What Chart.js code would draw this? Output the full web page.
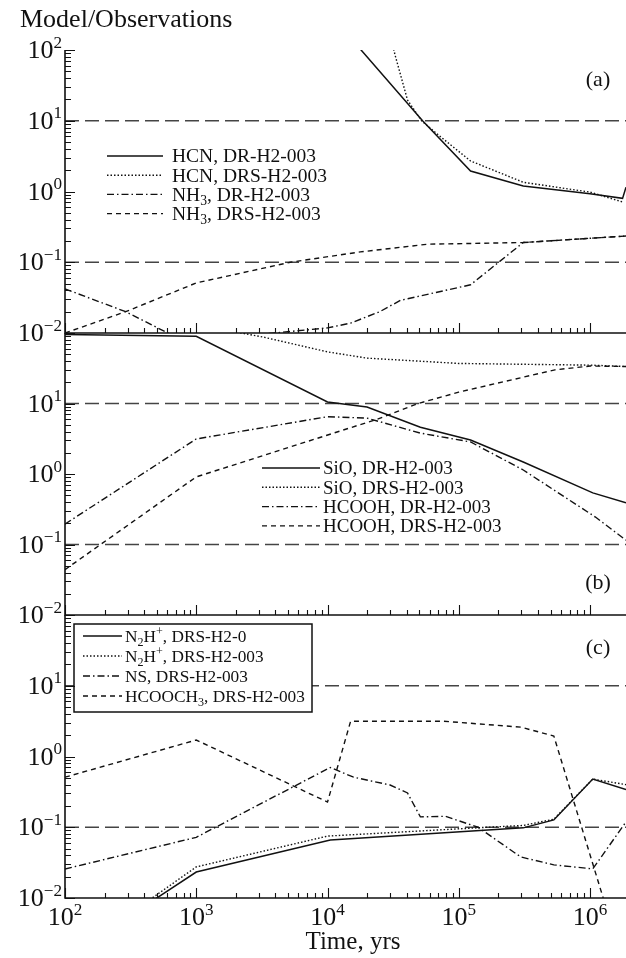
<!DOCTYPE html>
<html>
<head>
<meta charset="utf-8">
<script src="https://cdn.jsdelivr.net/npm/chart.js@4.4.1/dist/chart.umd.min.js"></script>
<style>
  html, body { margin: 0; padding: 0; background: #fff; }
  #wrap { position: relative; width: 626px; height: 958px; overflow: hidden; }
  #wrap canvas { position: absolute; left: 0; top: 0; }
</style>
</head>
<body>
<div id="wrap">
  <canvas id="pa" width="626" height="958"></canvas>
  <canvas id="pb" width="626" height="958"></canvas>
  <canvas id="pc" width="626" height="958"></canvas>
</div>
<script>
// ---- axis ranges / ticks ----
const xMin = 100, xMax = 1.88e6;
const yMin = 0.01, yMax = 100;
const xTickExp = [2, 3, 4, 5, 6];
const yTickExpA = [2, 1, 0, -1, -2];
const yTickExpBC = [1, 0, -1, -2];
const refLevels = [10, 0.1];

// ---- panel (a) ----
const hcnDrT  = [1.5e4, 5.3e4, 1.23e5, 3.1e5, 1.0e6, 1.77e6, 1.88e6];
const hcnDrV  = [148, 10, 1.95, 1.2, 0.93, 0.8, 1.15];
const hcnDrsT = [3.0e4, 3.3e4, 4.07e4, 5.2e4, 7.3e4, 1.23e5, 3.1e5, 1.0e6, 1.78e6];
const hcnDrsV = [160, 80, 19.6, 10, 5.9, 2.7, 1.35, 0.98, 0.71];
const nh3DrT  = [100, 290, 620, 1500, 3500, 1.0e4, 1.5e4, 2.5e4, 3.6e4, 1.23e5, 3.1e5, 1.88e6];
const nh3DrV  = [0.042, 0.02, 0.0098, 0.006, 0.0098, 0.0118, 0.0138, 0.02, 0.029, 0.048, 0.19, 0.235];
const nh3DrsT = [100, 290, 1.0e3, 5.2e3, 1.78e4, 5.8e4, 3.1e5, 1.88e6];
const nh3DrsV = [0.01, 0.02, 0.051, 0.1, 0.14, 0.18, 0.19, 0.235];

// ---- panel (b) ----
const sioDrT    = [100, 1.0e3, 1.0e4, 2.0e4, 5.1e4, 1.23e5, 3.1e5, 1.05e6, 1.88e6];
const sioDrV    = [95, 90, 10.5, 8.9, 4.6, 3.04, 1.48, 0.54, 0.39];
const sioDrsT   = [1.0e3, 2.2e3, 3.2e3, 1.0e4, 2.0e4, 1.0e5, 1.0e6, 1.88e6];
const sioDrsV   = [150, 100, 88, 54, 44, 37, 35, 33.5];
const hcoohDrT  = [100, 1.0e3, 1.0e4, 2.0e4, 5.1e4, 1.23e5, 3.1e5, 1.1e6, 1.88e6];
const hcoohDrV  = [0.195, 3.14, 6.5, 6.2, 3.8, 2.85, 1.14, 0.245, 0.115];
const hcoohDrsT = [100, 1.0e3, 2.4e4, 4.9e4, 1.0e5, 5.4e5, 1.0e6, 1.88e6];
const hcoohDrsV = [0.044, 0.91, 6.0, 10, 14.5, 30, 34, 33.5];

// ---- panel (c) ----
const n2hT     = [400, 1.0e3, 1.05e4, 3.1e5, 5.3e5, 1.05e6, 1.88e6];
const n2hV     = [0.0076, 0.0233, 0.066, 0.098, 0.127, 0.48, 0.34];
const n2h003T  = [400, 1.0e3, 1.0e4, 1.5e5, 3.1e5, 5.3e5, 1.05e6, 1.88e6];
const n2h003V  = [0.0083, 0.0275, 0.075, 0.099, 0.106, 0.13, 0.48, 0.4];
const nsT      = [100, 1.0e3, 1.05e4, 1.58e4, 3.0e4, 4.07e4, 5.1e4, 7.9e4, 1.4e5, 2.97e5, 5.3e5, 1.05e6, 1.88e6];
const nsV      = [0.0257, 0.072, 0.7, 0.51, 0.395, 0.305, 0.14, 0.143, 0.1, 0.038, 0.0294, 0.0258, 0.119];
const hcoochT  = [100, 1.0e3, 1.0e4, 1.5e4, 7.7e4, 2.97e5, 5.3e5, 1.26e6, 1.5e6];
const hcoochV  = [0.51, 1.71, 0.227, 3.15, 3.15, 2.6, 1.95, 0.01, 0.004];

const FONT = '"Liberation Serif", "Times New Roman", serif';
const INK = '#111';

// line styles
const STYLE = {
  solid:   { borderDash: [],             borderWidth: 1.5 },
  dotted:  { borderDash: [1.5, 2],       borderWidth: 1.4 },
  dashdot: { borderDash: [7, 3, 1.5, 3], borderWidth: 1.4 },
  dashed:  { borderDash: [5, 4],         borderWidth: 1.4 }
};

function pts(ts, vs) {
  return ts.map((t, i) => ({ x: t, y: vs[i] }));
}

function series(label, ts, vs, style) {
  return Object.assign({
    label: label,
    data: pts(ts, vs),
    borderColor: INK,
    backgroundColor: INK,
    pointRadius: 0,
    tension: 0,
    fill: false,
    inLegend: true
  }, STYLE[style]);
}

function refLines() {
  return refLevels.map(v => ({
    label: 'ref',
    data: [{ x: xMin, y: v }, { x: xMax, y: v }],
    borderColor: '#444',
    borderWidth: 1.6,
    borderDash: [14, 6],
    pointRadius: 0,
    order: 5,
    inLegend: false
  }));
}

// text with ^{sup} and _{sub} markup
function parseRich(str) {
  const parts = [];
  let i = 0, buf = '';
  while (i < str.length) {
    const c = str[i];
    if (c === '^' || c === '_') {
      if (buf) { parts.push({ t: buf, m: 'n' }); buf = ''; }
      let t;
      if (str[i + 1] === '{') {
        const j = str.indexOf('}', i + 2);
        t = str.slice(i + 2, j);
        i = j + 1;
      } else {
        t = str[i + 1];
        i += 2;
      }
      parts.push({ t: t, m: c === '^' ? 'sup' : 'sub' });
    } else {
      buf += c;
      i++;
    }
  }
  if (buf) parts.push({ t: buf, m: 'n' });
  return parts;
}

function drawRich(ctx, str, x, y, size, align, scale) {
  const parts = parseRich(str);
  const small = size * (scale || 0.64);
  const fontOf = m => (m === 'n' ? size : small) + 'px ' + FONT;
  let w = 0;
  parts.forEach(p => { ctx.font = fontOf(p.m); p.w = ctx.measureText(p.t).width; w += p.w; });
  let cx = align === 'right' ? x - w : align === 'center' ? x - w / 2 : x;
  ctx.textAlign = 'left';
  ctx.textBaseline = 'alphabetic';
  parts.forEach(p => {
    ctx.font = fontOf(p.m);
    const dy = p.m === 'sup' ? -size * 0.4 : p.m === 'sub' ? size * 0.22 : 0;
    ctx.fillText(p.t, cx, y + dy);
    cx += p.w;
  });
}

const expLabel = e => '10^{' + (e < 0 ? '\u2212' : '') + Math.abs(e) + '}';

// draws axes with inward ticks, tick labels, panel tag and legend
const panelPlugin = {
  id: 'panel',
  afterDraw(chart, args, o) {
    const { ctx, chartArea: a } = chart;
    const x = chart.scales.x, y = chart.scales.y;
    ctx.save();
    ctx.fillStyle = INK;
    ctx.strokeStyle = INK;

    // legend
    if (o.legend) {
      const L = o.legend;
      if (L.box) {
        ctx.fillStyle = '#fff';
        ctx.fillRect(L.box[0], L.box[1], L.box[2] - L.box[0], L.box[3] - L.box[1]);
        ctx.lineWidth = 1.5;
        ctx.setLineDash([]);
        ctx.strokeRect(L.box[0], L.box[1], L.box[2] - L.box[0], L.box[3] - L.box[1]);
        ctx.fillStyle = INK;
      }
      let row = 0;
      chart.data.datasets.forEach(ds => {
        if (!ds.inLegend) return;
        const ry = L.y + row * L.dy;
        ctx.lineWidth = ds.borderWidth;
        ctx.setLineDash(ds.borderDash || []);
        ctx.beginPath();
        ctx.moveTo(L.x1, ry);
        ctx.lineTo(L.x2, ry);
        ctx.stroke();
        ctx.setLineDash([]);
        drawRich(ctx, ds.label, L.tx, ry + L.size * 0.33, L.size, 'left', 0.7);
        row++;
      });
    }

    // axis lines
    ctx.setLineDash([]);
    ctx.lineWidth = 1.6;
    ctx.beginPath();
    ctx.moveTo(a.left, a.top);
    ctx.lineTo(a.left, a.bottom);
    ctx.lineTo(a.right, a.bottom);
    ctx.stroke();

    // y ticks (inward, to the right)
    ctx.lineWidth = 1.1;
    ctx.beginPath();
    for (let e = -2; e <= 2; e++) {
      const py = Math.round(y.getPixelForValue(Math.pow(10, e))) + 0.5;
      ctx.moveTo(a.left, py); ctx.lineTo(a.left + 10, py);
      if (e < 2) {
        for (let k = 2; k <= 9; k++) {
          const my = Math.round(y.getPixelForValue(k * Math.pow(10, e))) + 0.5;
          ctx.moveTo(a.left, my); ctx.lineTo(a.left + 6, my);
        }
      }
    }
    // x ticks (inward, upward)
    for (let e = 2; e <= 6; e++) {
      const px = Math.round(x.getPixelForValue(Math.pow(10, e))) + 0.5;
      ctx.moveTo(px, a.bottom); ctx.lineTo(px, a.bottom - 10);
      for (let k = 2; k <= 9; k++) {
        const v = k * Math.pow(10, e);
        if (v > xMax) break;
        const mx = Math.round(x.getPixelForValue(v)) + 0.5;
        ctx.moveTo(mx, a.bottom); ctx.lineTo(mx, a.bottom - 5);
      }
    }
    ctx.stroke();

    // y tick labels
    o.yLabels.forEach(e => {
      const py = y.getPixelForValue(Math.pow(10, e));
      drawRich(ctx, expLabel(e), a.left - 3, py + 8, 26, 'right', 0.66);
    });
    // x tick labels
    if (o.xLabels) {
      o.xLabels.forEach(e => {
        const px = x.getPixelForValue(Math.pow(10, e));
        drawRich(ctx, expLabel(e), px, a.bottom + 27, 26, 'center', 0.66);
      });
    }
    // panel tag
    ctx.font = '22px ' + FONT;
    ctx.textAlign = 'center';
    ctx.textBaseline = 'alphabetic';
    ctx.fillText(o.tag, 598, o.tagY);

    // extra texts (axis titles)
    (o.texts || []).forEach(t => {
      ctx.font = t.size + 'px ' + FONT;
      ctx.textAlign = t.align;
      ctx.fillText(t.text, t.x, t.y);
    });
    ctx.restore();
  }
};

function makePanel(id, top, bottom, datasets, panelOpts) {
  return new Chart(document.getElementById(id), {
    type: 'line',
    data: { datasets: datasets.concat(refLines()) },
    plugins: [panelPlugin],
    options: {
      responsive: false,
      animation: false,
      devicePixelRatio: 1,
      layout: { padding: { left: 65, right: 0, top: top, bottom: 958 - bottom } },
      scales: {
        x: { type: 'logarithmic', min: xMin, max: xMax, display: false },
        y: { type: 'logarithmic', min: yMin, max: yMax, display: false }
      },
      plugins: {
        legend: { display: false },
        tooltip: { enabled: false },
        panel: panelOpts
      }
    }
  });
}

makePanel('pa', 50, 333, [
  series('HCN, DR-H2-003', hcnDrT, hcnDrV, 'solid'),
  series('HCN, DRS-H2-003', hcnDrsT, hcnDrsV, 'dotted'),
  series('NH_3, DR-H2-003', nh3DrT, nh3DrV, 'dashdot'),
  series('NH_3, DRS-H2-003', nh3DrsT, nh3DrsV, 'dashed')
], {
  yLabels: yTickExpA,
  tag: '(a)', tagY: 86,
  legend: { x1: 107, x2: 163, tx: 172, y: 156, dy: 19.2, size: 19.5 },
  texts: [{ text: 'Model/Observations', x: 20, y: 27, size: 26, align: 'left' }]
});

makePanel('pb', 333, 615, [
  series('SiO, DR-H2-003', sioDrT, sioDrV, 'solid'),
  series('SiO, DRS-H2-003', sioDrsT, sioDrsV, 'dotted'),
  series('HCOOH, DR-H2-003', hcoohDrT, hcoohDrV, 'dashdot'),
  series('HCOOH, DRS-H2-003', hcoohDrsT, hcoohDrsV, 'dashed')
], {
  yLabels: yTickExpBC,
  tag: '(b)', tagY: 589,
  legend: { x1: 262, x2: 320, tx: 323, y: 468, dy: 19.3, size: 19 }
});

makePanel('pc', 615, 898, [
  series('N_2H^+, DRS-H2-0', n2hT, n2hV, 'solid'),
  series('N_2H^+, DRS-H2-003', n2h003T, n2h003V, 'dotted'),
  series('NS, DRS-H2-003', nsT, nsV, 'dashdot'),
  series('HCOOCH_3, DRS-H2-003', hcoochT, hcoochV, 'dashed')
], {
  yLabels: yTickExpBC,
  xLabels: xTickExp,
  tag: '(c)', tagY: 654,
  legend: { x1: 83, x2: 122, tx: 125, y: 636, dy: 20, size: 17.3, box: [74, 624, 312, 712] },
  texts: [{ text: 'Time, yrs', x: 353, y: 949, size: 25, align: 'center' }]
});
</script>
</body>
</html>
